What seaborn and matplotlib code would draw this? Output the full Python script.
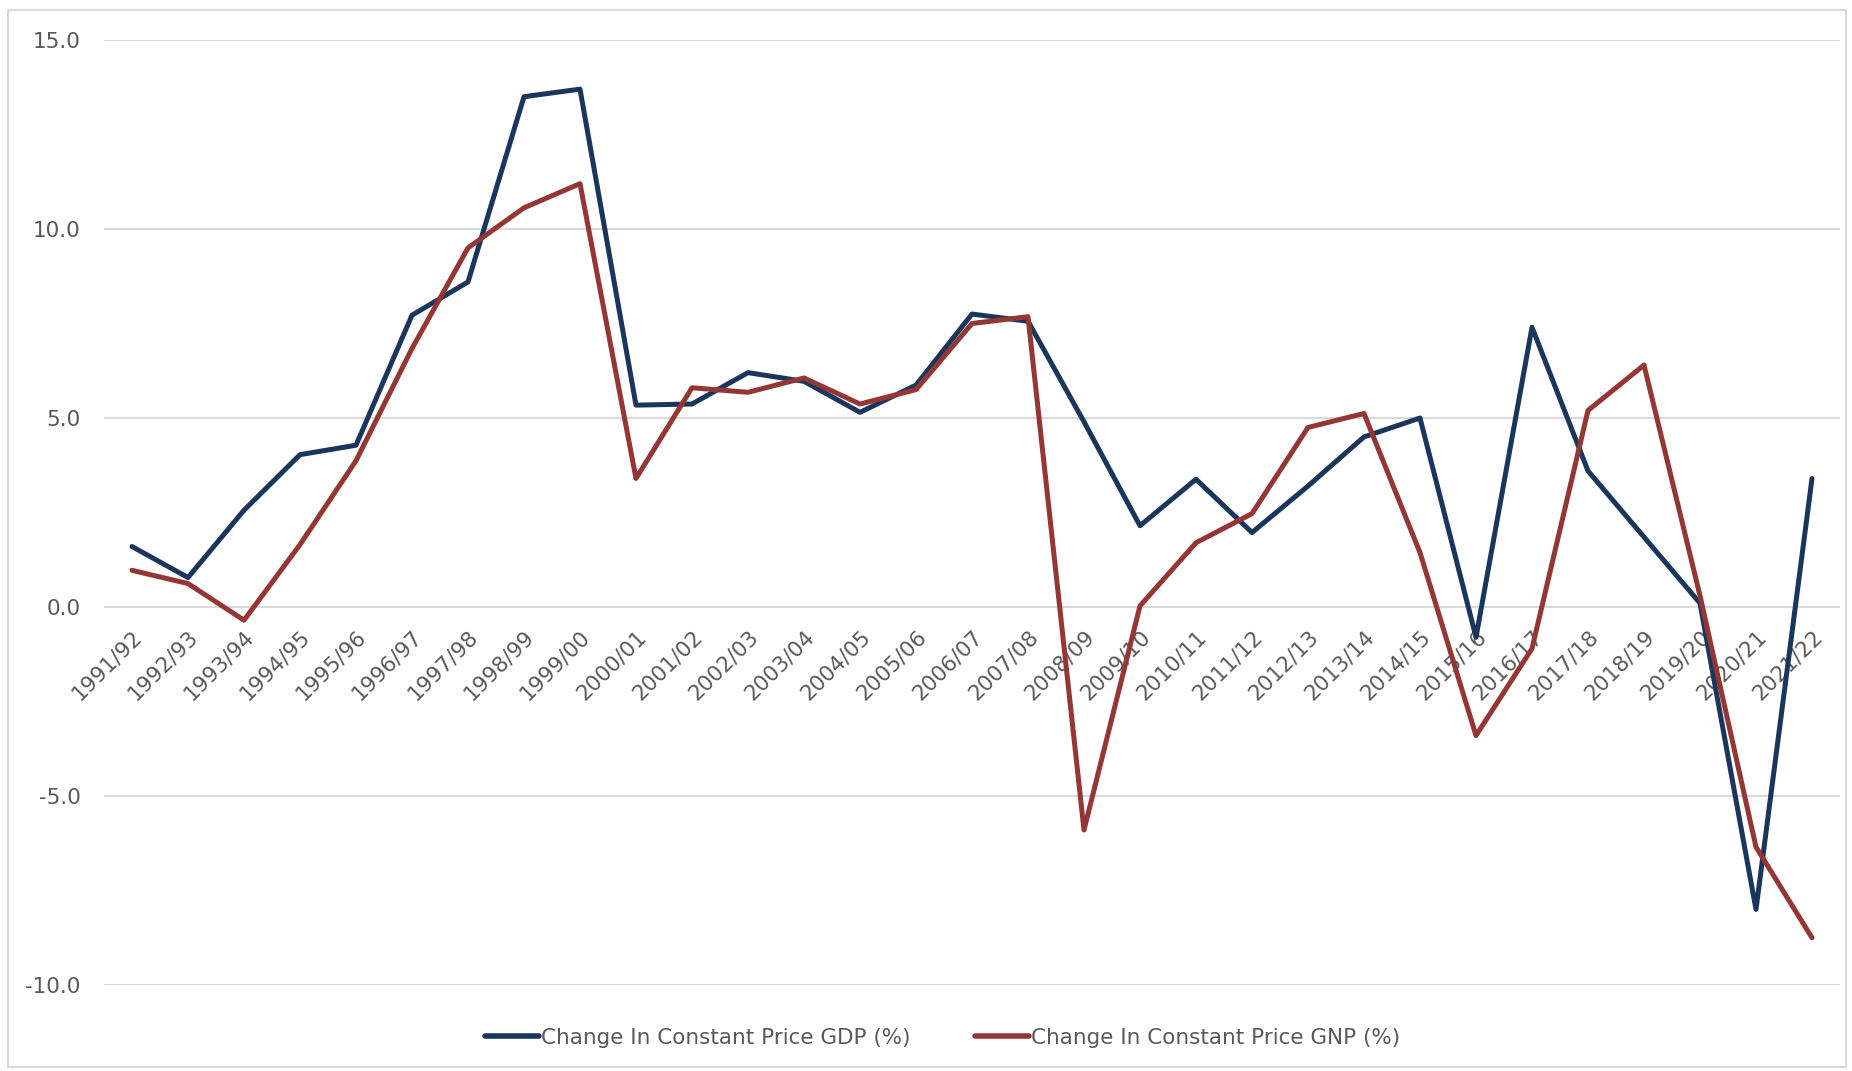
import pandas as pd
import matplotlib
matplotlib.use("Agg")
import matplotlib.pyplot as plt
from matplotlib.patches import Rectangle
import seaborn as sns

# fiscal years
years = ["1991/92", "1992/93", "1993/94", "1994/95", "1995/96", "1996/97", "1997/98",
         "1998/99", "1999/00", "2000/01", "2001/02", "2002/03", "2003/04", "2004/05",
         "2005/06", "2006/07", "2007/08", "2008/09", "2009/10", "2010/11", "2011/12",
         "2012/13", "2013/14", "2014/15", "2015/16", "2016/17", "2017/18", "2018/19",
         "2019/20", "2020/21", "2021/22"]

# change in constant price GDP (%)
gdp = [1.6, 0.78, 2.56, 4.03, 4.28, 7.72, 8.6, 13.5, 13.7, 5.34, 5.37, 6.2, 5.97, 5.15,
       5.87, 7.75, 7.56, 4.9, 2.15, 3.38, 1.97, 3.2, 4.5, 5.0, -0.8, 7.4, 3.6, 1.85,
       0.1, -8.0, 3.4]

# change in constant price GNP (%)
gnp = [0.97, 0.62, -0.35, 1.65, 3.87, 6.84, 9.5, 10.56, 11.2, 3.4, 5.8, 5.68, 6.06, 5.37,
       5.75, 7.5, 7.68, -5.9, 0.03, 1.7, 2.47, 4.75, 5.12, 1.44, -3.4, -1.1, 5.2, 6.4,
       0.3, -6.35, -8.75]

gdp_label = "Change In Constant Price GDP (%)"
gnp_label = "Change In Constant Price GNP (%)"

df = pd.DataFrame({
    "year": years * 2,
    "pos": list(range(len(years))) * 2,
    "value": gdp + gnp,
    "series": [gdp_label] * len(years) + [gnp_label] * len(years),
})

sns.set_style("white")
plt.rcParams["font.family"] = ["DejaVu Sans"]
txt = "#595959"

fig = plt.figure(figsize=(18.52, 10.71), dpi=100)
# light grey chart frame
fig.patches.append(Rectangle((8 / 1852, 0.004), 1 - 8 / 1852 - 0.003, 1 - 10 / 1071 - 0.004,
                             transform=fig.transFigure, fill=False,
                             edgecolor="#D9D9D9", linewidth=1.5))
ax = fig.add_axes([104 / 1852, 1 - 985 / 1071, (1840 - 104) / 1852, (985 - 40) / 1071])

sns.lineplot(data=df, x="pos", y="value", hue="series",
             palette={gdp_label: "#1B365D", gnp_label: "#943634"},
             linewidth=3.6, sort=False, ax=ax, legend=False)

ax.set_xlim(-0.5, len(years) - 0.5)
ax.set_ylim(-10, 15)
ax.yaxis.grid(True, color="#D9D9D9", linewidth=1.5)
ax.set_axisbelow(True)

# category axis crosses at zero
ax.spines["bottom"].set_position(("data", 0))
for s in ax.spines.values():
    s.set_visible(False)

ax.set_yticks([-10, -5, 0, 5, 10, 15])
ax.set_yticklabels([f"{v:.1f}" for v in [-10, -5, 0, 5, 10, 15]], color=txt, fontsize=15.5)
ax.set_xticks(range(len(years)))
ax.set_xticklabels(years, rotation=45, ha="right", rotation_mode="anchor",
                   color=txt, fontsize=15.5)
ax.tick_params(axis="both", length=0)
ax.tick_params(axis="x", pad=14)
ax.tick_params(axis="y", pad=17)
ax.set_xlabel("")
ax.set_ylabel("")

handles = [plt.Line2D([], [], color="#1B365D", linewidth=4, solid_capstyle="round"),
           plt.Line2D([], [], color="#943634", linewidth=4, solid_capstyle="round")]
leg = fig.legend(handles, [gdp_label, gnp_label], loc="center",
                 bbox_to_anchor=(943 / 1852, 1 - 1038 / 1071), ncol=2, frameon=False,
                 fontsize=15.5, handlelength=2.5, handletextpad=0.1, columnspacing=3.0)
for t in leg.get_texts():
    t.set_color(txt)

fig.savefig("out.png", dpi=100)
